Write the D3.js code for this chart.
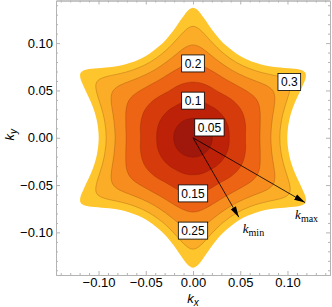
<!DOCTYPE html>
<html>
<head>
<meta charset="utf-8">
<script src="https://cdn.jsdelivr.net/npm/d3@7"></script>
<style>
  html, body { margin: 0; padding: 0; background: #fff; }
  svg { display: block; }
  text { font-family: "Liberation Sans", Arial, sans-serif; }
</style>
</head>
<body>
<svg id="chart"></svg>
<script>
// contour levels, innermost first (outermost one is where the plot is clipped)
const levels = [0.05, 0.1, 0.15, 0.2, 0.25, 0.3, 0.35];
// polar sample angles in degrees: 0 = valley (kx axis), 30 = star tip
const sampleAngles = [0, 5, 10, 15, 20, 25, 28, 30];
// |k| of each contour at those angles
const r005 = [0.0205, 0.0205, 0.0205, 0.0205, 0.0205, 0.0205, 0.0205, 0.0205];
const r010 = [0.0385, 0.0386, 0.0388, 0.0390, 0.0391, 0.0392, 0.0392, 0.0392];
const r015 = [0.0555, 0.0558, 0.0566, 0.0574, 0.0581, 0.0586, 0.0588, 0.0588];
const r020 = [0.0708, 0.0712, 0.0722, 0.0737, 0.0757, 0.0776, 0.0783, 0.0785];
const r025 = [0.0824, 0.0830, 0.0846, 0.0873, 0.0912, 0.0957, 0.0976, 0.0981];
const r030 = [0.0919, 0.0926, 0.0948, 0.0986, 0.1045, 0.1124, 0.1166, 0.1177];
const r035 = [0.0998, 0.1007, 0.1033, 0.1081, 0.1159, 0.1275, 0.1351, 0.1373];
const contourRadii = [r005, r010, r015, r020, r025, r030, r035];

// contour labels and the direction (deg) where each one sits
const labelLevels = [0.05, 0.1, 0.15, 0.2, 0.25, 0.3];
const labelAngles = [32, 90, -90, 90, -90, 30];

// arrows from the origin: k_max to a tip, k_min to a valley
const arrowNames = ["max", "min"];
const arrowAngles = [-30, -60];
const arrowLengths = [0.137, 0.097];

const majorTicks = [-0.1, -0.05, 0, 0.05, 0.1];
const minorTicks = d3.range(-14, 15).map(i => i / 100).filter(v => Math.round(v * 100) % 5 !== 0);

// fill of the band just inside each level
const bandColors = ["#a0170c", "#bd2108", "#d63c0b", "#ec6414", "#f68d1e", "#fbad27", "#fec52c"];

const width = 332;
const height = 307;
const margin = {top: 0.5, right: 2, bottom: 32, left: 56};

const svg = d3.select("#chart")
  .attr("width", width)
  .attr("height", height);

const x = d3.scaleLinear().domain([-0.145, 0.145]).range([margin.left, width - margin.right]);
const y = d3.scaleLinear().domain([-0.145, 0.145]).range([height - margin.bottom, margin.top]);

svg.append("defs").append("clipPath")
  .attr("id", "plotClip")
  .append("rect")
  .attr("x", x.range()[0])
  .attr("y", y.range()[1])
  .attr("width", x.range()[1] - x.range()[0])
  .attr("height", y.range()[0] - y.range()[1]);

const toRad = d => d * Math.PI / 180;

// build a closed contour with the 6-fold symmetry of the star
function contourPoints(radii) {
  const pts = [];
  for (let s = 0; s < 6; s++) {
    const v = s * 60;
    for (let i = sampleAngles.length - 1; i > 0; i--) pts.push([v - sampleAngles[i], radii[i]]);
    for (let i = 0; i < sampleAngles.length - 1; i++) pts.push([v + sampleAngles[i], radii[i]]);
  }
  return pts.map(([a, r]) => [r * Math.cos(toRad(a)), r * Math.sin(toRad(a))]);
}

// radius of a level in a given direction (nearest sample)
function radiusAt(levelIndex, angle) {
  let a = ((angle % 60) + 60) % 60;
  if (a > 30) a = 60 - a;
  let best = 0;
  sampleAngles.forEach((s, i) => {
    if (Math.abs(s - a) < Math.abs(sampleAngles[best] - a)) best = i;
  });
  return contourRadii[levelIndex][best];
}

const line = d3.line()
  .x(d => x(d[0]))
  .y(d => y(d[1]))
  .curve(d3.curveCatmullRomClosed.alpha(0.5));

const plot = svg.append("g").attr("clip-path", "url(#plotClip)");

// filled bands, outermost first
const order = d3.range(levels.length).reverse();
plot.append("g")
  .selectAll("path")
  .data(order)
  .enter().append("path")
  .attr("d", i => line(contourPoints(contourRadii[i])))
  .attr("fill", i => bandColors[i]);

// thin contour lines (not on the clipping edge)
plot.append("g")
  .selectAll("path")
  .data(order.filter(i => i < levels.length - 1))
  .enter().append("path")
  .attr("d", i => line(contourPoints(contourRadii[i])))
  .attr("fill", "none")
  .attr("stroke", "rgba(90,20,0,0.35)")
  .attr("stroke-width", 0.6);

// frame with ticks on all sides
const frameColor = "#b3b3b3";
function styleAxis(g) {
  g.selectAll(".domain").attr("stroke", frameColor);
  g.selectAll(".tick line").attr("stroke", frameColor);
  g.selectAll(".tick text").attr("fill", "#000").style("font-size", "13px")
    .style("font-family", "'Liberation Sans', Arial, sans-serif");
}
const fmt = d3.format(".2f");
const bottom = height - margin.bottom;
const right = width - margin.right;

svg.append("g").attr("transform", `translate(0,${bottom})`)
  .call(d3.axisBottom(x).tickValues(minorTicks).tickSize(-2).tickSizeOuter(0).tickFormat(""))
  .call(styleAxis);
svg.append("g").attr("transform", `translate(0,${bottom})`)
  .call(d3.axisBottom(x).tickValues(majorTicks).tickSize(-4).tickSizeOuter(0).tickPadding(3).tickFormat(fmt))
  .call(styleAxis);
svg.append("g").attr("transform", `translate(${margin.left},0)`)
  .call(d3.axisLeft(y).tickValues(minorTicks).tickSize(-2).tickSizeOuter(0).tickFormat(""))
  .call(styleAxis);
svg.append("g").attr("transform", `translate(${margin.left},0)`)
  .call(d3.axisLeft(y).tickValues(majorTicks).tickSize(-4).tickSizeOuter(0).tickPadding(3).tickFormat(fmt))
  .call(styleAxis);
svg.append("g").attr("transform", `translate(0,${margin.top})`)
  .call(d3.axisTop(x).tickValues(minorTicks).tickSize(-2).tickSizeOuter(0).tickFormat(""))
  .call(styleAxis);
svg.append("g").attr("transform", `translate(0,${margin.top})`)
  .call(d3.axisTop(x).tickValues(majorTicks).tickSize(-4).tickSizeOuter(0).tickFormat(""))
  .call(styleAxis);
svg.append("g").attr("transform", `translate(${right},0)`)
  .call(d3.axisRight(y).tickValues(minorTicks).tickSize(-2).tickSizeOuter(0).tickFormat(""))
  .call(styleAxis);
svg.append("g").attr("transform", `translate(${right},0)`)
  .call(d3.axisRight(y).tickValues(majorTicks).tickSize(-4).tickSizeOuter(0).tickFormat(""))
  .call(styleAxis);

// axis titles
const kx = svg.append("text")
  .attr("x", x(0))
  .attr("y", 303)
  .attr("text-anchor", "middle")
  .style("font-size", "13px")
  .style("font-style", "italic");
kx.append("tspan").text("k");
kx.append("tspan").attr("dy", 3).style("font-size", "10px").text("x");

const ky = svg.append("text")
  .attr("transform", `translate(14,${y(0) - 3}) rotate(-90)`)
  .attr("text-anchor", "middle")
  .style("font-size", "13px")
  .style("font-style", "italic");
ky.append("tspan").text("k");
ky.append("tspan").attr("dy", 3).style("font-size", "10px").text("y");

// contour labels in white boxes
const labels = svg.append("g")
  .selectAll("g")
  .data(labelLevels)
  .enter().append("g")
  .attr("transform", (d, i) => {
    const li = levels.indexOf(d);
    const r = radiusAt(li, labelAngles[i]);
    const a = toRad(labelAngles[i]);
    return `translate(${x(r * Math.cos(a))},${y(r * Math.sin(a))})`;
  });
const labelRects = labels.append("rect")
  .attr("fill", "#fff")
  .attr("stroke", "#000")
  .attr("stroke-width", 0.8);
labels.append("text")
  .attr("text-anchor", "middle")
  .attr("dy", "0.36em")
  .style("font-size", "12px")
  .text(d => String(d));
labels.each(function() {
  const w = d3.select(this).select("text").node().getComputedTextLength() + 6;
  d3.select(this).select("rect")
    .attr("x", -w / 2)
    .attr("y", -8.5)
    .attr("width", w)
    .attr("height", 17);
});

// arrows
svg.select("defs").append("marker")
  .attr("id", "head")
  .attr("viewBox", "0 -4 11 8")
  .attr("refX", 11)
  .attr("refY", 0)
  .attr("markerUnits", "userSpaceOnUse")
  .attr("markerWidth", 11)
  .attr("markerHeight", 8)
  .attr("orient", "auto")
  .append("path")
  .attr("d", "M0,-3L11,0L0,3Z")
  .attr("fill", "#000");

const arrows = arrowNames.map((name, i) => {
  const a = toRad(arrowAngles[i]);
  return {name, kx: arrowLengths[i] * Math.cos(a), ky: arrowLengths[i] * Math.sin(a)};
});

svg.append("g")
  .selectAll("line")
  .data(arrows)
  .enter().append("line")
  .attr("x1", x(0))
  .attr("y1", y(0))
  .attr("x2", d => x(d.kx))
  .attr("y2", d => y(d.ky))
  .attr("stroke", "#000")
  .attr("stroke-width", 0.8)
  .attr("marker-end", "url(#head)");

const labelOffsets = {max: [-10, 16], min: [4, 16]};
const arrowText = svg.append("g")
  .selectAll("text")
  .data(arrows)
  .enter().append("text")
  .attr("x", d => x(d.kx) + labelOffsets[d.name][0])
  .attr("y", d => y(d.ky) + labelOffsets[d.name][1])
  .style("font-family", "'Liberation Serif', 'Times New Roman', serif")
  .style("font-size", "13px");
arrowText.append("tspan").style("font-style", "italic").text("k");
arrowText.append("tspan").attr("dy", 3).style("font-size", "10px").text(d => d.name);
</script>
</body>
</html>
